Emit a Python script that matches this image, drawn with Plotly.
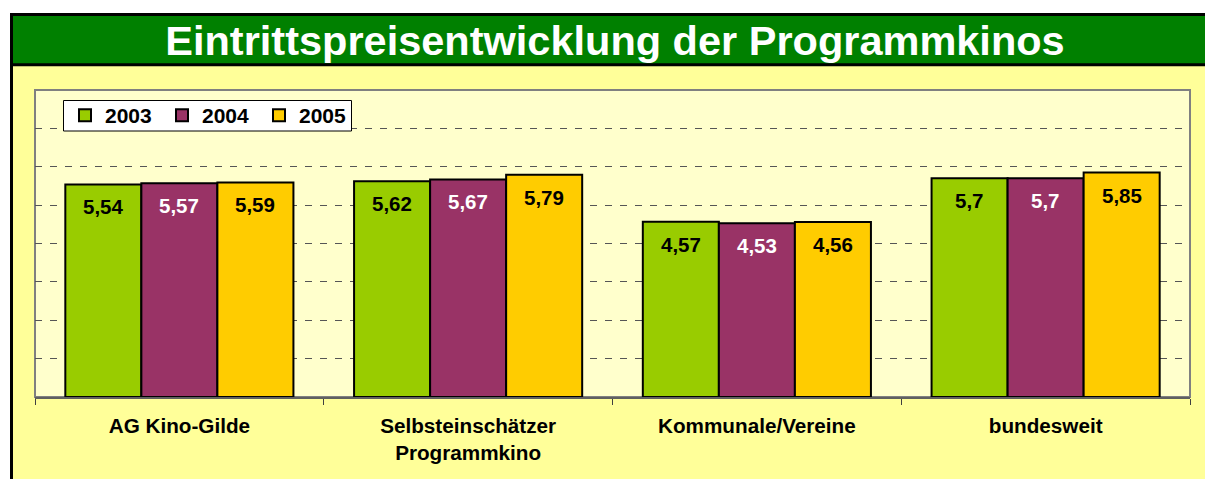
import plotly.graph_objects as go

categories = ["AG Kino-Gilde", "Selbsteinschätzer<br>Programmkino", "Kommunale/Vereine", "bundesweit"]
years = ["2003", "2004", "2005"]
values_2003 = [5.54, 5.62, 4.57, 5.70]
values_2004 = [5.57, 5.67, 4.53, 5.70]
values_2005 = [5.59, 5.79, 4.56, 5.85]
colors = ["#99CC00", "#993366", "#FFCC00"]
text_colors = ["#000000", "#FFFFFF", "#000000"]

series = [values_2003, values_2004, values_2005]

FONT = "Liberation Sans, Arial, sans-serif"
W, H = 1205, 479
ML, MR, MT, MB = 35, 15, 90, 82
PW, PH = W - ML - MR, H - MT - MB
BARGAP = 0.21


def px_x(p):
    return (p - ML) / PW


def px_y(p):
    return (H - MB - p) / PH


def fmt(v):
    s = ("%.2f" % v).rstrip("0").rstrip(".")
    return s.replace(".", ",")


fig = go.Figure()
for yr, vals, col in zip(years, series, colors):
    fig.add_trace(go.Bar(
        name=yr, x=categories, y=vals,
        marker=dict(color=col, line=dict(color="#000000", width=2)),
        hoverinfo="skip",
    ))

annotations = []
bw = (1 - BARGAP) / len(series)
for j, vals in enumerate(series):
    for i, v in enumerate(vals):
        annotations.append(dict(
            x=i + (j - 1) * bw, y=v, xref="x", yref="y",
            text=fmt(v), showarrow=False, yanchor="middle", yshift=-22.5,
            font=dict(family=FONT, size=20.5, color=text_colors[j], weight="bold"),
        ))

shapes = [
    # outer yellow frame
    dict(type="rect", xref="paper", yref="paper", layer="below",
         x0=px_x(11.5), x1=px_x(1260), y0=px_y(560), y1=px_y(14.5),
         fillcolor="#FFFF99", line=dict(color="#000000", width=3)),
    # green title band
    dict(type="rect", xref="paper", yref="paper", layer="below",
         x0=px_x(11.5), x1=px_x(1260), y0=px_y(64.8), y1=px_y(14.5),
         fillcolor="#008000", line=dict(color="#000000", width=3)),
    # plot area
    dict(type="rect", xref="paper", yref="paper", layer="below",
         x0=0, x1=1, y0=0, y1=1,
         fillcolor="#FFFFCC", line=dict(color="#808080", width=2)),
    # legend box
    dict(type="rect", xref="paper", yref="paper", layer="above",
         x0=px_x(63.5), x1=px_x(351.5), y0=px_y(131), y1=px_y(100.5),
         fillcolor="#FFFFFF", line=dict(color="#000000", width=1)),
]

fig.update_layout(
    width=W, height=H,
    margin=dict(l=ML, r=MR, t=MT, b=MB, pad=0),
    paper_bgcolor="#FFFFFF",
    plot_bgcolor="#FFFFCC",
    barmode="group", bargap=BARGAP, bargroupgap=0,
    title=dict(
        text="Eintrittspreisentwicklung der Programmkinos",
        x=615 / W, xanchor="center", xref="container",
        y=1 - 40.4 / H, yanchor="middle", yref="container",
        font=dict(family=FONT, size=41.5, color="#FFFFFF", weight="bold"),
    ),
    legend=dict(
        orientation="h", x=px_x(65), y=px_y(95), xanchor="left", yanchor="top",
        bgcolor="rgba(0,0,0,0)", borderwidth=0,
        font=dict(family=FONT, size=21, color="#000000", weight="bold"),
        entrywidth=52, traceorder="normal",
    ),
    xaxis=dict(
        type="category", showgrid=False, showline=True, linecolor="#606060", linewidth=1.5,
        ticks="outside", tickson="boundaries", ticklen=6, tickcolor="#404040", tickwidth=1,
        tickfont=dict(family=FONT, size=20.7, color="#000000", weight="bold"),
        ticklabelstandoff=10,
    ),
    yaxis=dict(
        range=[0, 8], dtick=1, showticklabels=False, ticks="",
        showgrid=True, gridcolor="#555555", gridwidth=1, griddash="7px,8px",
        zeroline=False, showline=False,
    ),
    shapes=shapes,
    annotations=annotations,
    showlegend=True,
    hovermode=False,
)

fig.write_html(
    "out.html",
    config={"displayModeBar": False, "staticPlot": True},
    post_script="document.body.style.margin='0';document.body.style.overflow='hidden';",
)
